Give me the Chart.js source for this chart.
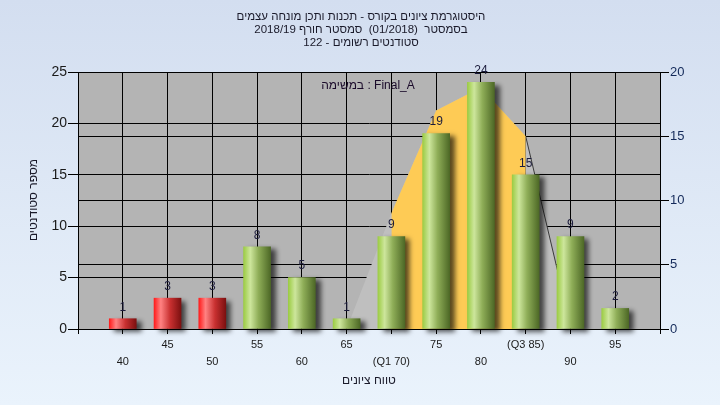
<!DOCTYPE html>
<html>
<head>
<meta charset="utf-8">
<script src="https://cdn.jsdelivr.net/npm/chart.js@4.4.1/dist/chart.umd.min.js"></script>
<style>
  html, body { margin:0; padding:0; }
  body { width:720px; height:405px; background: linear-gradient(#d3def0, #eaf3fc); overflow:hidden; }
  canvas { display:block; }
</style>
</head>
<body>
<canvas id="c" width="720" height="405"></canvas>
<script>
// ---- data ----
const categories = [40, 45, 50, 55, 60, 65, 70, 75, 80, 85, 90, 95];
const counts     = [1, 3, 3, 8, 5, 1, 9, 19, 24, 15, 9, 2];
const tickLabels = ['40', '45', '50', '55', '60', '65', '(Q1 70)', '75', '80', '(Q3 85)', '90', '95'];
const curveX     = [65, 70, 75, 80, 85, 90];
const curveY     = [0, 9, 17, 18.8, 15, 0.3];
const q1 = 70, q3 = 85;
const passMark = 55;
const titleLines = [
  'היסטוגרמת ציונים בקורס - תכנות ותכן מונחה עצמים',
  'בסמסטר  (01/2018)  סמסטר חורף 2018/19',
  'סטודנטים רשומים - 122'
];
const taskText = 'במשימה : Final_A';
const yTitle = 'מספר סטודנטים';
const xTitle = 'טווח ציונים';

const FONT = '"Liberation Sans", Arial, sans-serif';

function barGradient(ctx) {
  const chart = ctx.chart;
  const xs = chart.scales && chart.scales.x;
  const fail = categories[ctx.dataIndex] < passMark;
  const flat = fail ? '#e02020' : '#8fb84a';
  if (!xs || ctx.type !== 'data') return flat;
  const cx = xs.getPixelForValue(categories[ctx.dataIndex]);
  if (!isFinite(cx)) return flat;
  const g = chart.ctx.createLinearGradient(cx - 13.5, 0, cx + 13.5, 0);
  if (fail) {
    g.addColorStop(0, '#ff1c1c');
    g.addColorStop(0.25, '#ff8282');
    g.addColorStop(0.6, '#c83030');
    g.addColorStop(1, '#7c1010');
  } else {
    g.addColorStop(0, '#9ccc44');
    g.addColorStop(0.25, '#cde69c');
    g.addColorStop(0.55, '#8fae58');
    g.addColorStop(1, '#4d6826');
  }
  return g;
}

const plotBg = {
  id: 'plotBg',
  beforeDraw(chart) {
    const {ctx, chartArea: a} = chart;
    ctx.save();
    ctx.fillStyle = '#b4b4b4';
    ctx.fillRect(a.left, a.top, a.right - a.left, a.bottom - a.top);
    ctx.restore();
  }
};

const barShadow = {
  id: 'barShadow',
  beforeDatasetDraw(chart, args) {
    if (args.meta.type !== 'bar') return;
    const ctx = chart.ctx;
    ctx.save();
    ctx.shadowColor = 'rgba(0,0,0,0.65)';
    ctx.shadowBlur = 5;
    ctx.shadowOffsetX = 5;
    ctx.shadowOffsetY = 3;
  },
  afterDatasetDraw(chart, args) {
    if (args.meta.type !== 'bar') return;
    chart.ctx.restore();
  }
};

const texts = {
  id: 'texts',
  afterDatasetsDraw(chart) {
    const ctx = chart.ctx;
    const meta = chart.getDatasetMeta(0);
    ctx.save();
    ctx.font = '12px ' + FONT;
    ctx.fillStyle = '#1c1c3c';
    ctx.textAlign = 'center';
    ctx.textBaseline = 'middle';
    meta.data.forEach((el, i) => {
      ctx.fillText(String(counts[i]), el.x, el.y - 11.5);
    });
    ctx.restore();
  },
  afterDraw(chart) {
    const ctx = chart.ctx;
    ctx.save();
    ctx.textAlign = 'center';
    ctx.textBaseline = 'middle';
    ctx.direction = 'ltr';
    ctx.fillStyle = '#1a0a2a';
    ctx.font = '12px ' + FONT;
    ctx.fillText(taskText, 368, 86);
    ctx.direction = 'rtl';
    ctx.fillStyle = '#1a1a2a';
    ctx.font = '11.5px ' + FONT;
    titleLines.forEach((t, i) => ctx.fillText(t, 361, 17 + i * 13));
    ctx.font = '12px ' + FONT;
    ctx.fillText(xTitle, 369, 381);
    ctx.translate(34, 200);
    ctx.rotate(-Math.PI / 2);
    ctx.fillText(yTitle, 0, 0);
    ctx.restore();
  }
};

new Chart(document.getElementById('c'), {
  type: 'bar',
  data: {
    datasets: [
      {
        type: 'bar',
        data: categories.map((c, i) => ({x: c, y: counts[i]})),
        backgroundColor: barGradient,
        borderWidth: 0,
        barThickness: 27,
        yAxisID: 'y',
        order: 1,
        clip: false
      },
      {
        type: 'line',
        data: curveX.filter(x => x >= q1 && x <= q3).map(x => ({x, y: curveY[curveX.indexOf(x)]})),
        yAxisID: 'y1',
        fill: 'origin',
        backgroundColor: '#fecb55',
        borderWidth: 0,
        borderColor: 'rgba(0,0,0,0)',
        pointRadius: 0,
        tension: 0,
        order: 2
      },
      {
        type: 'line',
        data: curveX.map((x, i) => ({x, y: curveY[i]})),
        yAxisID: 'y1',
        fill: 'origin',
        backgroundColor: '#bfbfbf',
        borderWidth: 1,
        borderColor: 'rgba(0,0,0,0)',
        segment: {
          borderColor: c => (c.p0.parsed.x >= q3 ? '#3a3a3a' : 'rgba(0,0,0,0)')
        },
        pointRadius: 0,
        tension: 0,
        order: 3
      }
    ]
  },
  options: {
    responsive: false,
    animation: false,
    devicePixelRatio: 1,
    layout: { padding: { top: 72, left: 0, right: 0, bottom: 0 } },
    plugins: { legend: { display: false }, tooltip: { enabled: false }, title: { display: false } },
    scales: {
      x: {
        type: 'linear',
        min: 35, max: 100,
        offset: false,
        afterFit(s) { s.height = 76; },
        grid: { color: '#000', lineWidth: 1, tickLength: 5, drawOnChartArea: true, offset: false },
        border: { color: '#000', width: 1 },
        ticks: {
          stepSize: 5,
          autoSkip: false,
          maxRotation: 0,
          minRotation: 0,
          padding: 3,
          color: '#1a1a1a',
          font: { family: FONT, size: 11, lineHeight: 1.5 },
          callback(v) {
            const i = categories.indexOf(v);
            if (i < 0) return '';
            return i % 2 === 0 ? ['', tickLabels[i]] : tickLabels[i];
          }
        }
      },
      y: {
        position: 'left',
        min: 0, max: 25,
        afterFit(s) { s.width = 78; },
        grid: { color: '#000', lineWidth: 1, tickLength: 10 },
        border: { color: '#000', width: 1 },
        ticks: { stepSize: 5, padding: 1, color: '#1a1a1a', font: { family: FONT, size: 14 } }
      },
      y1: {
        position: 'right',
        min: 0, max: 20,
        afterFit(s) { s.width = 60; },
        grid: { color: '#000', lineWidth: 1, tickLength: 9 },
        border: { color: '#000', width: 1 },
        ticks: { stepSize: 5, padding: 1, color: '#142a5a', font: { family: FONT, size: 13 } }
      }
    }
  },
  plugins: [plotBg, barShadow, texts]
});
</script>
</body>
</html>
